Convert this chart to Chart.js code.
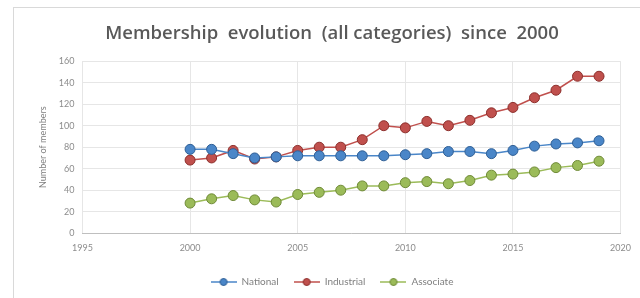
<!DOCTYPE html>
<html>
<head>
<meta charset="utf-8">
<script src="https://cdn.jsdelivr.net/npm/chart.js@4"></script>
<style>
  html, body { margin: 0; padding: 0; background: #fff; }
  #wrap { position: absolute; left: 13px; top: 7px; width: 627px; height: 291px; border: 1px solid #d9d9d9; border-right: none; border-bottom: none; box-sizing: border-box; }
  canvas { position: absolute; left: 0; top: 0; }
</style>
</head>
<body>
<div id="wrap"></div>
<canvas id="grafic" width="640" height="298"></canvas>
<script>
// years and values
const years = [2000, 2001, 2002, 2003, 2004, 2005, 2006, 2007, 2008, 2009,
               2010, 2011, 2012, 2013, 2014, 2015, 2016, 2017, 2018, 2019];
const national   = [78, 78, 74, 70, 71, 72, 72, 72, 72, 72, 73, 74, 76, 76, 74, 77, 81, 83, 84, 86];
const industrial = [68, 70, 77, 69, 71, 77, 80, 80, 87, 100, 98, 104, 100, 105, 112, 117, 126, 133, 146, 146];
const associate  = [28, 32, 35, 31, 29, 36, 38, 40, 44, 44, 47, 48, 46, 49, 54, 55, 57, 61, 63, 67];
const yTicks = [0, 20, 40, 60, 80, 100, 120, 140, 160];
const xTicks = [1995, 2000, 2005, 2010, 2015, 2020];

function toPoints(vals) {
  return years.map((y, i) => ({ x: y, y: vals[i] }));
}

function series(label, vals, color, dark) {
  return {
    label: label,
    data: toPoints(vals),
    borderColor: color,
    backgroundColor: color,
    pointBorderColor: dark,
    pointBorderWidth: 1,
    pointRadius: 5,
    borderWidth: 1.5,
    tension: 0
  };
}

// small "line with dot" picture for the legend
function legendMark(color, dark) {
  let c = document.createElement("canvas");
  c.width = 26;
  c.height = 10;
  let g = c.getContext("2d");
  g.strokeStyle = color;
  g.lineWidth = 1.5;
  g.beginPath();
  g.moveTo(0, 5);
  g.lineTo(26, 5);
  g.stroke();
  g.fillStyle = color;
  g.strokeStyle = dark;
  g.lineWidth = 1;
  g.beginPath();
  g.arc(13, 5, 3.5, 0, Math.PI * 2);
  g.fill();
  g.stroke();
  return c;
}

window.onload = function () {
  Chart.defaults.font.family = "Lato, 'Open Sans', sans-serif";
  Chart.defaults.color = "#7f7f7f";
  let marks = [
    legendMark("#4a86c8", "#2f5f95"),
    legendMark("#c0504d", "#8c2f2c"),
    legendMark("#9bbb59", "#6f8a37")
  ];
  let ctx = document.getElementById("grafic").getContext("2d");
  let myChart = new Chart(ctx, {
    type: "line",
    data: {
      datasets: [
        series("National", national, "#4a86c8", "#2f5f95"),
        series("Industrial", industrial, "#c0504d", "#8c2f2c"),
        series("Associate", associate, "#9bbb59", "#6f8a37")
      ]
    },
    options: {
      responsive: false,
      animation: false,
      layout: { padding: { left: 34, right: 10, top: 8, bottom: 1 } },
      plugins: {
        title: {
          display: true,
          text: "Membership  evolution  (all categories)  since  2000",
          color: "#595959",
          font: { family: "'Open Sans', sans-serif", size: 18.5, weight: "600" },
          padding: { top: 15, bottom: 16 }
        },
        legend: {
          position: "bottom",
          labels: {
            usePointStyle: true,
            pointStyleWidth: 26,
            padding: 15,
            color: "#7f7f7f",
            font: { size: 10 },
            generateLabels: chart => {
              let items = Chart.defaults.plugins.legend.labels.generateLabels(chart);
              items.forEach((it, i) => { it.pointStyle = marks[i]; });
              return items;
            }
          }
        }
      },
      scales: {
        x: {
          type: "linear",
          min: 1995,
          max: 2020,
          afterBuildTicks: axis => { axis.ticks = xTicks.map(v => ({ value: v })); },
          ticks: { font: { size: 9 }, color: "#8c8c8c", padding: 9, callback: v => String(v) },
          grid: { color: "#e6e6e6", drawTicks: false },
          border: { color: "#bfbfbf" }
        },
        y: {
          min: 0,
          max: 160,
          afterBuildTicks: axis => { axis.ticks = yTicks.map(v => ({ value: v })); },
          ticks: { font: { size: 9 }, color: "#8c8c8c", padding: 8 },
          grid: { color: "#e6e6e6", drawTicks: false },
          border: { display: false },
          title: {
            display: true,
            text: "Number of members",
            color: "#7f7f7f",
            font: { size: 9 },
            padding: { bottom: 2 }
          }
        }
      }
    }
  });
};
</script>
</body>
</html>
